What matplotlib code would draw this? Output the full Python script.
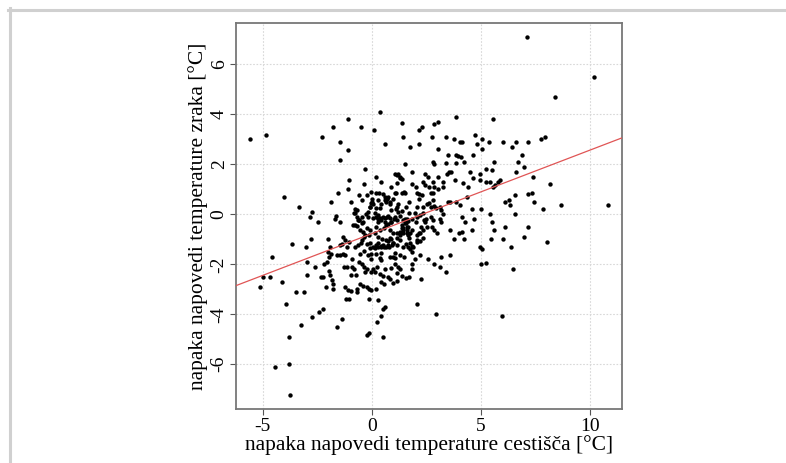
import numpy as np
import matplotlib.pyplot as plt
from matplotlib.lines import Line2D

# forecast error of road surface temperature (x) vs air temperature (y), °C
err_cestisce = [
    -5.59, -4.85, -4.05, -3.68, -3.33, -4.58, -4.98, -4.67, -5.13, -4.11,
    -3.48, -3.13, -3.92, -3.27, -3.82, -3.82, -4.46, -3.77, -3.04, -2.99,
    -2.96, -2.79, -2.73, -2.82, -2.60, -2.75, -2.43, -2.23, -2.46, -2.29,
    -2.03, -1.89, -1.79, -2.35, -2.23, -2.12, -2.20, -2.08, -1.98, -2.00,
    -1.89, -1.91, -1.98, -1.92, -1.83, -1.77, -1.80, -1.60, -1.39, -1.71,
    -1.56, -1.66, -1.47, -1.44, -1.44, -1.11, -1.10, -1.05, -1.08, -0.98,
    -1.47, -1.37, -1.59, -1.47, -1.34, -1.22, -1.31, -1.24, -1.07, -1.16,
    -1.27, -1.16, -1.24, -1.11, -1.19, -1.04, -0.98, -0.89, -0.81, -0.73,
    -0.89, -0.76, -0.98, -0.70, -0.67, -0.84, -0.78, -0.70, -0.63, -0.85,
    -0.76, -0.70,
    # top middle
    -0.50, 0.09, 0.37, 0.61, 1.37, 1.41, 1.77, 2.15, 2.32, 2.14,
    1.54, 2.87, 3.05, 2.78, 3.05, 2.81, 2.85, 3.42, 3.76, 3.88,
    4.03, 4.15, 3.51, 3.39, 3.88, 3.97, 4.11, 3.85, 4.23,
    # centre, x around 0
    -0.31, -0.38, -0.61, -0.47, -0.21, -0.06, 0.02, 0.06, -0.09, -0.17,
    -0.27, -0.43, -0.58, -0.46, -0.55, -0.40, -0.24, -0.09, -0.15, -0.37,
    -0.49, -0.24, -0.09, -0.37, -0.55, -0.17, -0.02, -0.58, -0.47, -0.37,
    -0.21, -0.32, -0.06, -0.55, -0.40, -0.24, -0.12, -0.06, -0.12, -0.15,
    -0.21, -0.05,
    # centre, x 0 .. 1
    0.21, 0.40, 0.21, 0.34, 0.52, 0.58, 0.70, 0.76, 0.64, 0.82,
    0.89, 0.98, 0.18, 0.37, 0.14, 0.21, 0.29, 0.40, 0.52, 0.60,
    0.70, 0.82, 0.90, 0.75, 0.21, 0.37, 0.56, 0.82, 0.95, 0.14,
    0.29, 0.47, 0.67, 0.76, 0.85, 0.98, 0.06, 0.14, 0.29, 0.44,
    0.55, 0.67, 0.79, 0.92, 0.18, 0.37, 0.44, 0.24, 0.06, 0.15,
    0.37, 0.49, 0.60, 0.73, 0.82, 0.95, 0.89, 0.98, 0.40, 0.55,
    0.21, 0.29, 0.24, 0.40, 0.49, 0.52, 0.61,
    # centre, x 1 .. 2
    1.05, 1.19, 1.28, 1.39, 1.16, 1.10, 1.36, 1.51, 1.16, 1.10,
    1.22, 1.05, 1.16, 1.31, 1.44, 1.56, 1.37, 1.44, 1.41, 1.28,
    1.16, 1.59, 1.66, 1.31, 1.16, 1.44, 1.56, 1.08, 1.28, 1.47,
    1.05, 1.20, 1.28, 1.13, 1.36, 1.56, 1.16,
    1.85, 1.82, 2.02, 2.08, 2.15, 2.29, 2.17, 2.05, 1.97, 2.05,
    2.02, 1.86, 1.71, 1.69, 1.56, 1.66, 1.51, 1.59, 1.85, 1.74,
    1.69, 1.82, 1.74, 1.98, 1.85, 1.85, 1.69,
    # x 2 .. 3.5
    2.35, 2.44, 2.69, 2.81, 2.62, 2.55, 2.35, 2.20, 2.38, 2.27,
    2.35, 2.17, 2.05, 2.20, 2.35, 2.69, 2.81, 2.78, 2.43, 2.58,
    3.05, 3.24, 3.27, 2.81, 2.87, 3.01, 2.82, 2.87, 2.93, 3.11,
    3.19, 3.27, 3.11, 3.19, 2.87, 2.98, 2.69, 2.61, 2.50, 2.44,
    2.55, 2.35, 3.45, 3.54, 3.65, 3.82, 3.51, 3.60, 3.60, 3.76,
    3.60, 3.42, 3.11, 3.15, 2.85, 2.96, 2.56, 2.23, 2.24, 2.08,
    # x 4 .. 11
    4.64, 4.49, 4.64, 4.40, 4.18, 4.35, 4.58, 4.70, 4.58, 4.15,
    4.29, 4.15, 3.98, 4.21, 4.03, 3.86, 5.07, 5.07, 4.72, 4.82,
    4.98, 4.95, 5.22, 5.44, 5.51, 5.59, 5.48, 4.99, 4.98, 5.04,
    4.99, 5.25, 5.57, 5.62, 5.51, 5.89, 5.78, 5.56, 5.63, 5.40,
    5.22, 5.37, 6.02, 6.60, 6.43, 6.89, 6.98, 6.70, 6.60, 6.55,
    6.27, 6.32, 6.11, 6.09, 6.02, 6.38, 6.47, 5.98, 6.55, 7.15,
    7.40, 7.18, 7.33, 7.45, 7.15, 6.98, 7.74, 7.92, 7.85, 8.03,
    8.15, 8.66, 8.41, 10.17, 10.82, 7.10,
    # extra points in the dense core
    -0.66, -0.78, -0.60, -0.40, -0.17, 0.06, 0.26, 0.37, 0.29, 0.60,
    0.67, 0.90, 1.02, 0.75, 1.21, 1.39, 1.51, 1.63, 1.66, 1.51,
    1.36, 1.59, 1.44, 1.28, 1.13, 0.87, 0.98, 0.75, 0.52, 0.41,
    0.29, 0.17, -0.09, -0.32, -0.47, -0.63, 0.44, 0.82, 1.05, 1.82,
    1.66, 1.89, 1.74, 2.05, 2.05, 2.20, 0.02, -0.02, -0.09, 0.29,
    0.44, 0.82, 0.87, 0.60, 0.70, 1.05, 1.48, 1.13, 1.28,
]
err_zrak = [
    3.01, 3.19, 0.69, -1.20, 0.29, -1.71, -2.49, -2.49, -2.92, -2.71,
    -3.09, -3.09, -3.59, -4.41, -4.92, -6.00, -6.11, -7.23, -1.31, -1.91,
    -2.43, -1.00, 0.08, -0.12, -2.12, -4.09, -3.91, -3.80, -0.29, 3.09,
    -1.00, 0.51, 3.51, -2.49, -2.49, -2.92, -2.00, -1.92, -1.69, -1.52,
    -1.59, -1.32, -2.25, -2.43, -2.63, -3.00, -2.80, -4.49, -4.20, -0.20,
    0.87, -0.07, -0.29, 2.88, 2.17, 2.59, 3.80, 1.37, 1.00, 0.51,
    -1.23, -1.20, -1.63, -1.64, -1.59, -1.63, -0.92, -1.03, -1.09, -1.29,
    -2.09, -2.12, -2.89, -3.03, -3.40, -3.40, -2.44, -2.09, -2.19, -2.43,
    -1.77, -1.29, -3.07, -3.00, -3.11, 0.07, 0.20, -0.09, -0.23, -0.44,
    -0.44, -0.46,
    # top middle
    3.51, 3.37, 4.09, 2.80, 3.67, 3.09, 2.69, 3.37, 3.48, 2.81,
    2.01, 3.63, 3.68, 3.11, 2.61, 2.11, 2.01, 3.11, 3.01, 3.88,
    2.88, 2.88, 2.37, 2.07, 2.37, 2.32, 2.31, 2.07, 2.09,
    # centre, x around 0
    1.80, 1.20, 0.77, 0.57, 0.77, 0.88, 0.51, 0.41, 0.31, 0.11,
    0.00, -0.09, -0.23, -0.36, -0.63, -0.69, -0.56, -0.63, -0.83, -0.92,
    -1.13, -1.20, -1.36, -1.45, -1.59, -1.63, -1.80, -1.91, -2.00, -2.09,
    -2.20, -2.29, -2.29, -2.79, -2.87, -2.92, -2.97, -3.03, -3.40, -4.76,
    -4.81, -1.59,
    # centre, x 0 .. 1
    1.51, 1.31, 0.87, 0.84, 0.81, 0.57, 0.64, 0.71, 0.51, 0.51,
    1.11, 0.60, 0.24, 0.24, 0.04, -0.09, -0.20, -0.23, -0.09, -0.29,
    -0.09, -0.16, -0.29, -0.39, -0.49, -0.63, -0.56, -0.63, -0.76, -0.76,
    -0.89, -1.00, -1.03, -1.07, -0.96, -1.13, -1.29, -1.36, -1.29, -1.27,
    -1.29, -1.29, -1.32, -1.23, -1.59, -1.76, -1.83, -2.09, -2.20, -2.29,
    -2.39, -2.47, -2.20, -2.49, -2.60, -1.69, -2.16, -2.73, -2.71, -2.79,
    -3.00, -3.43, -4.29, -4.07, -4.92, -3.80, -3.72,
    # centre, x 1 .. 2
    1.61, 1.60, 1.51, 1.40, 1.27, 0.87, 0.87, 0.87, 0.28, 0.20,
    0.41, -0.09, -0.23, -0.07, -0.23, -0.33, -0.43, -0.56, -0.63, -0.69,
    -0.76, -0.76, -0.83, -1.03, -1.23, -1.29, -1.19, -1.53, -1.63, -1.69,
    -1.99, -2.09, -2.20, -2.36, -2.47, -2.53, -2.65,
    1.69, 1.20, 1.08, 0.87, 0.80, 0.79, 0.60, 0.31, 0.04, -0.09,
    -0.29, -0.19, 0.07, 0.51, 0.31, -0.25, -0.23, -0.49, -0.63, -0.76,
    -0.96, -1.25, -1.40, -1.80, -2.00, -2.20, -2.49,
    # x 2 .. 3.5
    1.31, 1.17, 0.84, 0.84, 1.11, 0.41, 0.04, -0.03, -0.23, -0.49,
    -0.63, -0.76, -1.03, -1.05, -0.96, -0.09, -0.23, -0.49, 1.61, 1.51,
    1.51, 1.29, 1.11, 1.29, 1.11, 1.00, 0.57, 0.33, 0.24, 0.31,
    0.17, 0.03, -0.20, -0.29, -0.63, -0.76, 0.28, 0.44, -0.17, -0.29,
    -0.49, 0.31, 1.61, 1.69, 1.71, 1.37, 0.51, 0.51, -0.63, -1.00,
    -1.63, -2.31, -2.09, -1.72, -2.00, -4.00, -1.80, -1.64, -2.60, -3.59,
    # x 4 .. 11
    2.37, 1.71, 1.47, 1.08, 1.27, 0.71, 0.20, -0.19, -0.63, -0.12,
    -0.29, -0.69, -0.76, -1.00, 0.37, 0.49, 3.01, 2.60, 3.19, 2.81,
    1.61, 1.36, 1.29, 0.00, -0.29, -0.63, -1.00, 0.20, -1.29, -1.40,
    -2.00, -1.93, 3.80, 2.09, 1.79, 1.37, 1.29, 1.08, 1.17, 1.29,
    1.80, 2.88, 2.88, 2.88, 2.69, 2.37, 1.88, 2.09, 1.71, 0.79,
    0.57, 0.39, 0.51, -0.51, -0.99, -1.31, -2.20, -4.08, 0.00, 2.88,
    1.51, 0.80, 0.87, 0.51, -0.51, -0.92, 3.01, 3.11, 0.20, -1.12,
    1.20, 0.39, 4.68, 5.51, 0.39, 7.11,
    # extra points in the dense core
    0.17, 0.04, -0.23, -0.32, -0.09, -0.13, -0.03, -0.16, -0.32, -0.16,
    -0.43, -0.29, -0.19, -0.07, 0.11, 0.13, -0.19, -0.19, -0.49, -0.36,
    -0.56, -0.63, -0.76, -0.83, -0.93, -0.99, -1.16, -1.23, -1.23, -1.29,
    -1.16, -1.23, -1.16, -0.83, -1.03, -1.23, -1.56, -1.69, -1.76, -1.49,
    -1.29, -1.29, -1.13, -1.09, -0.83, -0.76, 0.60, 0.44, 0.31, 0.57,
    0.40, 0.40, 0.17, 0.71, 0.60, 0.84, 0.88, 1.57, 1.44,
]

# fitted regression line
line_intercept = -0.77
line_slope = 0.334

x_ticks = [-5, 0, 5, 10]
y_ticks = [-6, -4, -2, 0, 2, 4, 6]

plt.rcParams['font.family'] = ['Liberation Serif', 'DejaVu Serif']
plt.rcParams['axes.unicode_minus'] = False

fig = plt.figure(figsize=(7.86, 4.63), dpi=100)
ax = fig.add_axes([0.3003, 0.116, 0.4910, 0.835])

ax.grid(True, color='#d8d8d8', linestyle=(0, (1.5, 1.5)), linewidth=0.8)
ax.set_axisbelow(True)

ax.scatter(err_cestisce, err_zrak, s=10, color='black', linewidths=0, zorder=3)

xs = np.array([-6.3, 11.6])
ax.plot(xs, line_intercept + line_slope * xs, color='#e05555', linewidth=0.9, zorder=4)

ax.set_xlim(-6.23, 11.47)
ax.set_ylim(-7.8, 7.67)
ax.set_xticks(x_ticks)
ax.set_yticks(y_ticks)
ax.tick_params(axis='both', direction='out', length=4, width=0.8, color='#555555',
               labelsize=14, pad=2)
for lab in ax.get_yticklabels():
    lab.set_rotation(90)
    lab.set_va('center')

for s in ax.spines.values():
    s.set_color('#777777')
    s.set_linewidth(1.3)

ax.set_xlabel('napaka napovedi temperature cestišča [°C]', fontsize=15.5, labelpad=0)
ax.set_ylabel('napaka napovedi temperature zraka [°C]', fontsize=15.5, labelpad=2)

# light frame lines at the top and left edge of the picture
fig.add_artist(Line2D([8 / 786, 1], [1 - 9.5 / 463] * 2, transform=fig.transFigure,
                      color='#d0d0d0', linewidth=2.2))
fig.add_artist(Line2D([9.5 / 786] * 2, [0, 1 - 8 / 463], transform=fig.transFigure,
                      color='#d0d0d0', linewidth=2.2))

fig.savefig('out.png', dpi=100)
